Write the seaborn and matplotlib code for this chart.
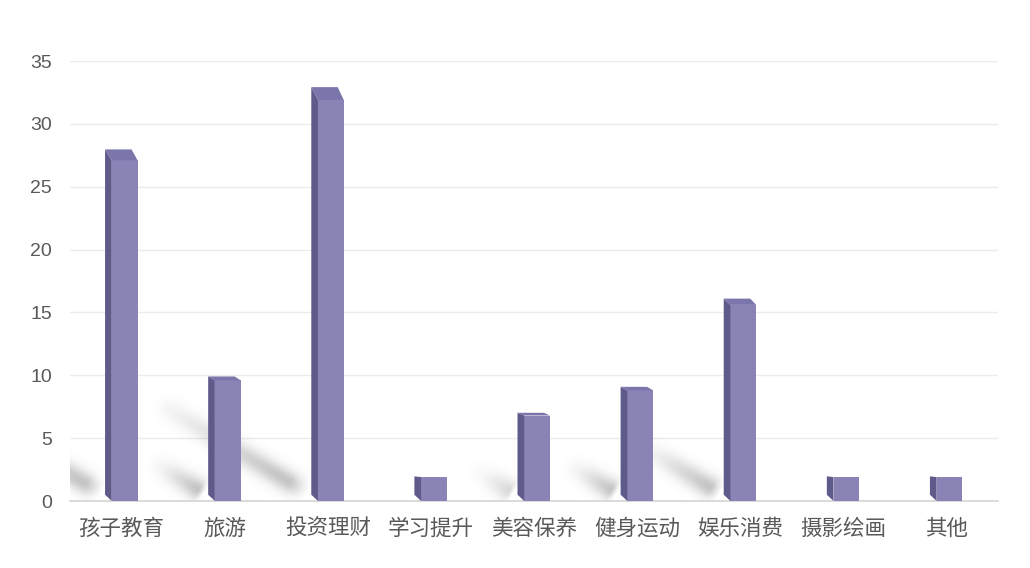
import matplotlib
matplotlib.use("Agg")
import matplotlib.pyplot as plt
import seaborn as sns
import pandas as pd
import numpy as np
from matplotlib.patches import Polygon

# data (front face heights)
categories = ["孩子教育", "旅游", "投资理财", "学习提升", "美容保养",
              "健身运动", "娱乐消费", "摄影绘画", "其他"]
values = [27.1, 9.6, 31.9, 1.9, 6.8, 8.8, 15.6, 1.9, 1.9]
y_ticks = [0, 5, 10, 15, 20, 25, 30, 35]

df = pd.DataFrame({"category": categories, "value": values})

sns.set_theme(style="white")
plt.rcParams["font.family"] = ["Noto Sans CJK SC", "DejaVu Sans"]

front_color = "#8a84b6"
side_color = "#5e5a8a"
top_color = "#7a75aa"
text_color = "#595959"

W, H = 1030, 568
ax_w, ax_h = 928, 440
fig = plt.figure(figsize=(W / 100, H / 100), dpi=100)
ax = fig.add_axes([70 / W, 67 / H, ax_w / W, ax_h / H])

sns.barplot(data=df, x="category", y="value", color=front_color,
            width=0.25, saturation=1, ax=ax, zorder=3, linewidth=0)

n = len(categories)
ax.set_ylim(0, 35)
ax.set_xlim(-0.5, n - 0.5)
sx = ax_w / n      # pixels per x unit
sy = ax_h / 35     # pixels per y unit

# soft floor shadows, built as a blurred image in pixel space
gx, gy = np.meshgrid(np.arange(ax_w) + 0.5, np.arange(ax_h) + 0.5)
shade = np.zeros_like(gx)
sigma = 7.5

depth_x = -0.065
for bar in ax.patches:
    bar.set_x(bar.get_x() + 0.03)
    x0 = bar.get_x()
    w = bar.get_width()
    h = bar.get_height()
    top_dy = 0.032 * h
    side = Polygon([(x0, 0), (x0 + depth_x, 0.5), (x0 + depth_x, h + top_dy),
                    (x0, h)], closed=True, facecolor=side_color,
                   edgecolor="none", zorder=3)
    ax.add_patch(side)
    if top_dy > 0.08:
        top = Polygon([(x0, h), (x0 + w, h), (x0 + w + depth_x * 0.9, h + top_dy),
                       (x0 + depth_x, h + top_dy)], closed=True,
                      facecolor=top_color, edgecolor="none", zorder=3,
                      clip_on=False)
        ax.add_patch(top)

    # shadow segment from the bar foot going up-left
    bx = (x0 + depth_x + 0.5) * sx - 4
    by = 8.0
    tx = bx - 4.3 * h
    ty = by + 2.6 * h
    vx, vy = tx - bx, ty - by
    L2 = vx * vx + vy * vy
    t = np.clip(((gx - bx) * vx + (gy - by) * vy) / L2, 0, 1)
    d2 = (gx - bx - t * vx) ** 2 + (gy - by - t * vy) ** 2
    fade = np.clip(1.2 - t, 0, 1) * np.clip(t * 8, 0, 1)
    amp = min(1.0, max(0.0, (h - 3) / 6))
    shade += amp * fade * np.exp(-d2 / (2 * sigma ** 2))

shade = np.clip(shade, 0, 1)
rgba = np.zeros((ax_h, ax_w, 4))
rgba[..., :3] = 0.40
rgba[..., 3] = 0.38 * shade
ax.imshow(rgba, extent=(-0.5, n - 0.5, 0, 35), origin="lower",
          aspect="auto", interpolation="bilinear", zorder=2)
ax.set_xlim(-0.5, n - 0.5)
ax.set_ylim(0, 35)

ax.set_yticks(y_ticks)
ax.grid(axis="y", color="#ebebeb", linewidth=1, zorder=0)
ax.set_axisbelow(True)
for s in ["top", "right", "left"]:
    ax.spines[s].set_visible(False)
ax.spines["bottom"].set_color("#d4d4d4")
ax.spines["bottom"].set_linewidth(1.2)

ax.tick_params(axis="both", length=0)
ax.tick_params(axis="y", pad=13)
ax.tick_params(axis="x", pad=12)
for lab in ax.get_yticklabels():
    lab.set_family(["Liberation Sans", "DejaVu Sans"])
    lab.set_fontsize(14)
    lab.set_color(text_color)
for lab in ax.get_xticklabels():
    lab.set_fontsize(15.5)
    lab.set_color(text_color)
ax.set_xlabel("")
ax.set_ylabel("")

fig.savefig("out.png", dpi=100)
